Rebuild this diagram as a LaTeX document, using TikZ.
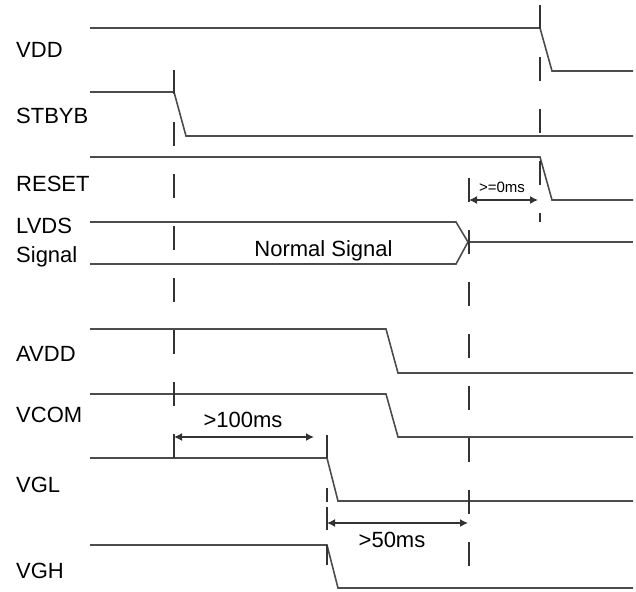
\documentclass[tikz,border=0pt]{standalone}
\usepackage{fontspec}
\setmainfont{Liberation Sans}
\usetikzlibrary{arrows.meta}
\tikzset{>={Latex[length=8pt,width=8pt]}}
\tikzset{
  sig/.style={draw=black!70, line width=1.6pt},
  guide/.style={draw=black!80, line width=1.1pt, dash pattern=on 24pt off 28pt},
  dim/.style={<->, draw=black!80, line width=1.4pt},
  lbl/.style={anchor=base west, inner sep=0pt, font=\fontsize{22}{26}\selectfont},
  note/.style={anchor=base, inner sep=0pt, font=\fontsize{22}{26}\selectfont}
}

\begin{document}
\begin{tikzpicture}[x=1pt,y=-1pt]
    \useasboundingbox (0,0) rectangle (636,591);

    % signal names
    \node[lbl] (vdd) at (16,58) {VDD};
    \node[lbl] (stbyb) at (16,123) {STBYB};
    \node[lbl] (reset) at (16,191) {RESET};
    \node[lbl] (lvds) at (16,233) {LVDS};
    \node[lbl] (signal) at (16,262) {Signal};
    \node[lbl] (avdd) at (16,361) {AVDD};
    \node[lbl] (vcom) at (16,422) {VCOM};
    \node[lbl] (vgl) at (16,492) {VGL};
    \node[lbl] (vgh) at (16,578) {VGH};

    % waveforms
    \draw[sig] (90,28) -- (540,28) -- (552,71) -- (633,71);
    \draw[sig] (90,92) -- (174,92) -- (186,136) -- (633,136);
    \draw[sig] (90,157) -- (540,157) -- (552,200) -- (633,200);
    \draw[sig] (90,222) -- (456,222) -- (468,242) -- (456,264) -- (90,264);
    \draw[sig] (468,242) -- (633,242);
    \node[note] (normal) at (323.5,256) {Normal Signal};
    \draw[sig] (90,329) -- (386,329) -- (398,373) -- (633,373);
    \draw[sig] (90,394) -- (386,394) -- (398,437) -- (633,437);
    \draw[sig] (90,458) -- (327,458) -- (338,501) -- (633,501);
    \draw[sig] (90,545) -- (327,545) -- (338,588) -- (633,588);

    % timing guides
    \draw[guide] (174,70) -- (174,459);
    \draw[guide] (540,5) -- (540,222);
    \draw[guide] (469,178) -- (469,567);
    \draw[guide, dash pattern=on 23pt off 30pt on 14pt off 5pt on 23pt off 15pt on 20pt off 50pt] (327,435) -- (327,565);

    % delays
    \draw[dim] (174,437) -- (314,437);
    \node[note] (t100) at (243,427) {>100ms};
    \draw[dim] (327,523) -- (468,523);
    \node[note] (t50) at (392,547) {>50ms};
    \draw[dim] (469,200) -- (538,200);
    \node[note, font=\fontsize{15}{18}\selectfont] (t0) at (502,192) {>=0ms};
\end{tikzpicture}
\end{document}
